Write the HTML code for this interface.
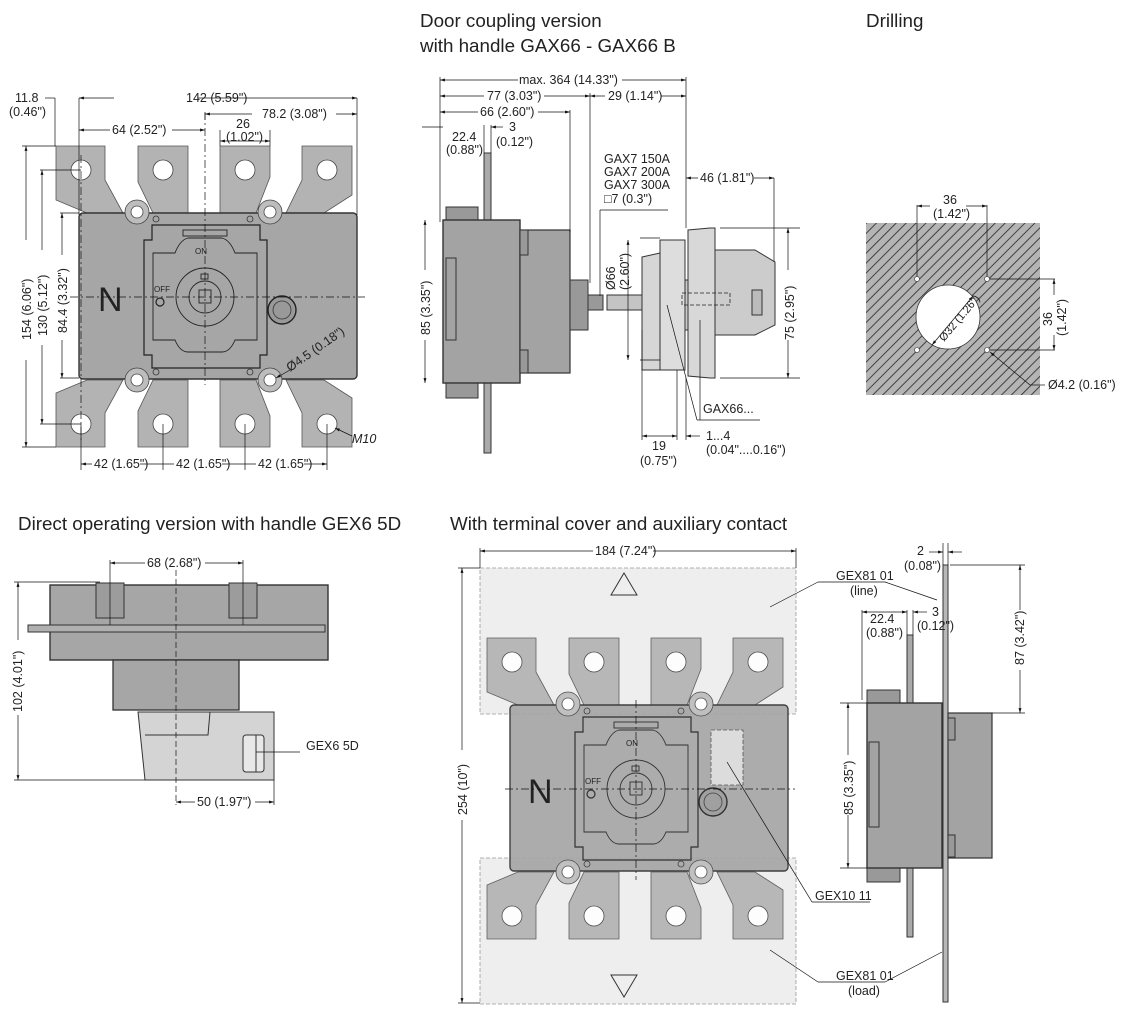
<!DOCTYPE html>
<html><head><meta charset="utf-8"><style>
html,body{margin:0;padding:0;background:#fff;}
svg{display:block;}
text{font-family:"Liberation Sans Narrow","Liberation Sans",sans-serif;fill:#222;}
.t{font-family:"Liberation Sans",sans-serif;font-size:18.8px;fill:#222;}
.d{font-size:12.5px;}
</style></head><body>
<svg width="1127" height="1022" viewBox="0 0 1127 1022" xmlns="http://www.w3.org/2000/svg">
<defs>
<marker id="a" viewBox="0 0 10 10" refX="10" refY="5" markerWidth="7" markerHeight="7" orient="auto-start-reverse"><path d="M0,2 L10,5 L0,8z" fill="#111"/></marker>
<pattern id="h" width="7" height="7" patternUnits="userSpaceOnUse" patternTransform="rotate(45)"><rect width="7" height="7" fill="#b4b4b4"/><line x1="0" y1="0" x2="0" y2="7" stroke="#333" stroke-width="1.8"/></pattern>
<g id="dev">
 <g fill="#b3b3b3" stroke="#555" stroke-width="0.8">
  <path d="M56,146 H105 V180 L123,213 H87 L56,200 Z"/>
  <path d="M138,146 H188 V213 H153 L138,182 Z"/>
  <path d="M220,146 H270 V177 L256,213 H220 Z"/>
  <path d="M302,146 H352 V195 L324,213 H286 L302,180 Z"/>
  <path d="M56,447 H105 V413 L123,380 H87 L56,393 Z"/>
  <path d="M138,447 H188 V380 H153 L138,411 Z"/>
  <path d="M220,447 H270 V416 L256,380 H220 Z"/>
  <path d="M302,447 H352 V398 L324,380 H286 L302,413 Z"/>
 </g>
 <g fill="#fff" stroke="#444" stroke-width="0.8">
  <circle cx="81" cy="170" r="10"/><circle cx="163" cy="170" r="10"/><circle cx="245" cy="170" r="10"/><circle cx="327" cy="170" r="10"/>
  <circle cx="81" cy="424" r="10"/><circle cx="163" cy="424" r="10"/><circle cx="245" cy="424" r="10"/><circle cx="327" cy="424" r="10"/>
 </g>
 <rect x="79" y="213" width="278" height="166" rx="4" fill="#a6a6a6" stroke="#333" stroke-width="1.4"/>
 <g stroke="#444" stroke-width="0.8">
  <circle cx="137" cy="212" r="12" fill="#bdbdbd"/><circle cx="137" cy="212" r="6" fill="#fff"/>
  <circle cx="270" cy="212" r="12" fill="#bdbdbd"/><circle cx="270" cy="212" r="6" fill="#fff"/>
  <circle cx="137" cy="380" r="12" fill="#bdbdbd"/><circle cx="137" cy="380" r="6" fill="#fff"/>
  <circle cx="270" cy="380" r="12" fill="#bdbdbd"/><circle cx="270" cy="380" r="6" fill="#fff"/>
 </g>
 <path d="M152,225 H260 V240 H267 V355 H260 V368 H152 V355 H144 V240 H152 Z" fill="#a6a6a6" stroke="#222" stroke-width="1.2"/>
 <path d="M153,253 H175 Q180,240 188,238 H222 Q230,240 235,253 H257 V340 H235 Q230,352 222,352 H188 Q180,352 175,340 H153 Z" fill="none" stroke="#222" stroke-width="0.9"/>
 <rect x="183" y="230" width="44" height="6" fill="none" stroke="#222" stroke-width="0.9"/>
 <circle cx="205" cy="297" r="29" fill="none" stroke="#222" stroke-width="0.9"/>
 <circle cx="205" cy="297" r="16" fill="none" stroke="#222" stroke-width="0.9"/>
 <rect x="199" y="290" width="12" height="13" fill="none" stroke="#222" stroke-width="0.9"/>
 <rect x="201" y="274" width="7" height="5" fill="none" stroke="#222" stroke-width="0.9"/>
 <circle cx="160" cy="302" r="4" fill="none" stroke="#222" stroke-width="1.2"/>
 <circle cx="282" cy="310" r="14" fill="#999" stroke="#222" stroke-width="1.4"/>
 <circle cx="282" cy="310" r="9" fill="none" stroke="#333" stroke-width="0.8"/>
 <g fill="none" stroke="#333" stroke-width="0.8"><circle cx="156" cy="219" r="3"/><circle cx="250" cy="219" r="3"/><circle cx="156" cy="372" r="3"/><circle cx="250" cy="372" r="3"/></g>
</g>
</defs>

<text class="t" x="420" y="27">Door coupling version</text>
<text class="t" x="420" y="52">with handle GAX66 - GAX66 B</text>
<text class="t" x="866" y="27">Drilling</text>
<text class="t" x="18" y="530">Direct operating version with handle GEX6 5D</text>
<text class="t" x="450" y="530">With terminal cover and auxiliary contact</text>

<use href="#dev"/>
<text x="98" y="311" style="font-family:'Liberation Sans',sans-serif;font-size:34px">N</text>
<text x="195" y="254" style="font-size:8px">ON</text>
<text x="154" y="292" style="font-size:8px">OFF</text>
<g stroke="#111" stroke-width="0.7" fill="none" stroke-dasharray="8,3,2,3">
 <line x1="70" y1="297" x2="365" y2="297"/><line x1="205" y1="112" x2="205" y2="385"/>
 <line x1="81" y1="155" x2="81" y2="440"/>
</g>
<g stroke="#111" stroke-width="0.7" fill="none">
 <line x1="55" y1="98" x2="55" y2="146"/><line x1="79" y1="98" x2="79" y2="215"/><line x1="357" y1="98" x2="357" y2="215"/>
 <line x1="205" y1="113" x2="205" y2="120"/>
 <line x1="220" y1="130" x2="220" y2="146"/><line x1="270" y1="130" x2="270" y2="146"/>
 <line x1="22" y1="146" x2="56" y2="146"/><line x1="40" y1="170" x2="81" y2="170"/><line x1="60" y1="213" x2="79" y2="213"/>
 <line x1="22" y1="447" x2="56" y2="447"/><line x1="40" y1="424" x2="81" y2="424"/><line x1="60" y1="378" x2="79" y2="378"/>
 <line x1="81" y1="424" x2="81" y2="470"/><line x1="163" y1="424" x2="163" y2="470"/><line x1="245" y1="424" x2="245" y2="470"/><line x1="327" y1="424" x2="327" y2="470"/>
</g>
<g stroke="#111" stroke-width="0.7" marker-start="url(#a)" marker-end="url(#a)">
 <line x1="79" y1="98" x2="357" y2="98"/>
 <line x1="205" y1="114" x2="357" y2="114"/>
 <line x1="79" y1="130" x2="205" y2="130"/>
 <line x1="220" y1="141" x2="270" y2="141"/>
 <line x1="26" y1="146" x2="26" y2="447"/>
 <line x1="42" y1="170" x2="42" y2="424"/>
 <line x1="62" y1="213" x2="62" y2="378"/>
 <line x1="81" y1="464" x2="327" y2="464"/>
</g>
<line x1="45" y1="98" x2="55" y2="98" stroke="#111" stroke-width="0.7"/>
<g fill="#fff"><rect x="114" y="90" width="84" height="14"/><rect x="252" y="106" width="84" height="14"/><rect x="110" y="122" width="62" height="14"/><rect x="20" y="240" width="12" height="120"/><rect x="36" y="250" width="12" height="95"/><rect x="56" y="255" width="12" height="85"/><rect x="92" y="456" width="48" height="14"/><rect x="174" y="456" width="48" height="14"/><rect x="256" y="456" width="48" height="14"/></g>
<text class="d" x="186" y="102">142 (5.59")</text>
<text class="d" x="262" y="118">78.2 (3.08")</text>
<text class="d" x="112" y="134">64 (2.52")</text>
<text class="d" x="236" y="128">26</text>
<text class="d" x="226" y="141">(1.02")</text>
<text class="d" x="15" y="102">11.8</text>
<text class="d" x="9" y="116">(0.46")</text>
<text class="d" transform="translate(31,340) rotate(-90)">154 (6.06")</text>
<text class="d" transform="translate(47,336) rotate(-90)">130 (5.12")</text>
<text class="d" transform="translate(67,333) rotate(-90)">84.4 (3.32")</text>
<text class="d" x="94" y="468">42 (1.65")</text>
<text class="d" x="176" y="468">42 (1.65")</text>
<text class="d" x="258" y="468">42 (1.65")</text>
<text class="d" transform="translate(290,372) rotate(-35)">Ø4.5 (0.18")</text>
<line x1="276" y1="378" x2="290" y2="370" stroke="#111" stroke-width="0.7" marker-start="url(#a)"/>
<text class="d" x="352" y="443" style="font-style:italic">M10</text>
<line x1="335" y1="428" x2="352" y2="436" stroke="#111" stroke-width="0.7" marker-start="url(#a)"/>

<g stroke="#333" stroke-width="1">
 <rect x="484" y="153" width="7" height="300" fill="#aaa"/>
 <rect x="446" y="207" width="32" height="13" fill="#999"/>
 <rect x="446" y="383" width="32" height="15" fill="#999"/>
 <rect x="443" y="220" width="77" height="163" fill="#a3a3a3" stroke-width="1.4"/>
 <rect x="446" y="258" width="10" height="82" fill="none"/>
 <rect x="520" y="230" width="50" height="143" fill="#a3a3a3" stroke-width="1.2"/>
 <rect x="520" y="230" width="8" height="25" fill="#999"/><rect x="520" y="350" width="8" height="23" fill="#999"/>
 <rect x="570" y="280" width="18" height="50" fill="#999"/>
 <rect x="588" y="295" width="15" height="15" fill="#999"/>
 <rect x="607" y="295" width="35" height="15" fill="#c4c4c4"/>
 <path d="M642,257 L660,253 V370 H642 Z" fill="#d6d6d6"/>
 <rect x="660" y="240" width="25" height="130" fill="#ddd"/>
 <rect x="685" y="280" width="10" height="50" fill="#ccc"/>
 <path d="M688,230 L710,228 H715 V378 H710 L688,376 Z" fill="#d8d8d8"/>
 <path d="M715,250 H755 L775,262 V325 L755,335 H715 Z" fill="#ccc"/>
 <rect x="752" y="290" width="10" height="25" fill="#bbb"/>
</g>
<rect x="682" y="293" width="48" height="12" fill="none" stroke="#222" stroke-width="0.8" stroke-dasharray="4,2"/>
<g stroke="#111" stroke-width="0.7" fill="none">
 <line x1="440" y1="77" x2="440" y2="222"/><line x1="686" y1="77" x2="686" y2="228"/>
 <line x1="590" y1="93" x2="590" y2="283"/><line x1="570" y1="110" x2="570" y2="232"/>
 <line x1="484" y1="125" x2="484" y2="153"/><line x1="491" y1="125" x2="491" y2="153"/>
 <line x1="774" y1="178" x2="774" y2="262"/>
 <line x1="640" y1="238" x2="660" y2="238"/><line x1="640" y1="360" x2="660" y2="360"/>
 <line x1="720" y1="228" x2="800" y2="228"/><line x1="720" y1="378" x2="800" y2="378"/>
 <line x1="600" y1="210" x2="668" y2="210"/><line x1="600" y1="210" x2="600" y2="296"/>
 <line x1="642" y1="330" x2="642" y2="440"/><line x1="677" y1="370" x2="677" y2="440"/><line x1="686" y1="378" x2="686" y2="440"/>
 <line x1="667" y1="305" x2="697" y2="420"/><line x1="700" y1="320" x2="700" y2="420"/><line x1="697" y1="420" x2="760" y2="420"/>
 <line x1="422" y1="127" x2="443" y2="127"/>
</g>
<g stroke="#111" stroke-width="0.7" marker-start="url(#a)" marker-end="url(#a)">
 <line x1="440" y1="80" x2="686" y2="80"/>
 <line x1="440" y1="96" x2="590" y2="96"/>
 <line x1="590" y1="96" x2="686" y2="96"/>
 <line x1="440" y1="112" x2="570" y2="112"/>
 <line x1="686" y1="178" x2="774" y2="178"/>
 <line x1="425" y1="220" x2="425" y2="383"/>
 <line x1="628" y1="240" x2="628" y2="360"/>
 <line x1="788" y1="228" x2="788" y2="378"/>
 <line x1="642" y1="436" x2="677" y2="436"/>
</g>
<line x1="491" y1="127" x2="503" y2="127" stroke="#111" stroke-width="0.7" marker-start="url(#a)"/>
<line x1="686" y1="436" x2="700" y2="436" stroke="#111" stroke-width="0.7" marker-start="url(#a)"/>
<g fill="#fff"><rect x="518" y="72" width="104" height="14"/><rect x="484" y="88" width="60" height="14"/><rect x="605" y="88" width="56" height="14"/><rect x="478" y="104" width="60" height="14"/><rect x="698" y="170" width="56" height="14"/><rect x="418" y="270" width="14" height="70"/><rect x="781" y="270" width="14" height="70"/></g>
<text class="d" x="519" y="84">max. 364 (14.33")</text>
<text class="d" x="487" y="100">77 (3.03")</text>
<text class="d" x="608" y="100">29 (1.14")</text>
<text class="d" x="480" y="116">66 (2.60")</text>
<text class="d" x="452" y="141">22.4</text>
<text class="d" x="446" y="154">(0.88")</text>
<text class="d" x="509" y="131">3</text>
<text class="d" x="496" y="146">(0.12")</text>
<text class="d" x="604" y="163">GAX7 150A</text>
<text class="d" x="604" y="176">GAX7 200A</text>
<text class="d" x="604" y="189">GAX7 300A</text>
<text class="d" x="604" y="203">□7 (0.3")</text>
<text class="d" x="700" y="182">46 (1.81")</text>
<text class="d" transform="translate(430,335) rotate(-90)">85 (3.35")</text>
<text class="d" transform="translate(615,290) rotate(-90)">Ø66</text>
<text class="d" transform="translate(629,290) rotate(-90)">(2.60")</text>
<text class="d" transform="translate(794,340) rotate(-90)">75 (2.95")</text>
<text class="d" x="703" y="413">GAX66...</text>
<text class="d" x="652" y="450">19</text>
<text class="d" x="640" y="465">(0.75")</text>
<text class="d" x="706" y="440">1...4</text>
<text class="d" x="706" y="454">(0.04"....0.16")</text>

<rect x="866" y="223" width="174" height="172" fill="url(#h)"/>
<circle cx="948" cy="317" r="32" fill="#fff" stroke="#333" stroke-width="0.8"/>
<g fill="#fff" stroke="#333" stroke-width="0.6"><circle cx="917" cy="279" r="2.5"/><circle cx="987" cy="279" r="2.5"/><circle cx="917" cy="350" r="2.5"/><circle cx="987" cy="350" r="2.5"/></g>
<g stroke="#111" stroke-width="0.7" fill="none">
 <line x1="917" y1="205" x2="917" y2="277"/><line x1="987" y1="205" x2="987" y2="277"/>
 <line x1="990" y1="279" x2="1055" y2="279"/><line x1="990" y1="350" x2="1055" y2="350"/>
 <line x1="1030" y1="385" x2="1045" y2="385"/>
</g>
<g stroke="#111" stroke-width="0.7" marker-start="url(#a)" marker-end="url(#a)">
 <line x1="917" y1="206" x2="987" y2="206"/><line x1="1054" y1="279" x2="1054" y2="350"/>
 <line x1="932" y1="345" x2="973" y2="296"/>
</g>
<line x1="990" y1="352" x2="1030" y2="385" stroke="#111" stroke-width="0.7" marker-start="url(#a)"/>
<rect x="930" y="198" width="36" height="14" fill="#fff"/><rect x="1047" y="295" width="16" height="40" fill="#fff"/>
<text class="d" x="943" y="204">36</text>
<text class="d" x="933" y="218">(1.42")</text>
<text class="d" transform="translate(1052,326) rotate(-90)">36</text>
<text class="d" transform="translate(1066,336) rotate(-90)">(1.42")</text>
<text class="d" transform="translate(944,342) rotate(-50)" style="font-size:11px">Ø32 (1.26")</text>
<text class="d" x="1048" y="389">Ø4.2 (0.16")</text>

<g stroke="#333" stroke-width="1">
 <rect x="50" y="585" width="278" height="75" fill="#a6a6a6" stroke-width="1.4"/>
 <rect x="96" y="583" width="28" height="35" fill="#9c9c9c"/><rect x="229" y="583" width="28" height="35" fill="#9c9c9c"/>
 <rect x="28" y="625" width="297" height="7" fill="#b0b0b0"/>
 <rect x="113" y="660" width="126" height="50" fill="#a6a6a6" stroke-width="1.3"/>
 <path d="M138,712 H274 V780 H145 Z" fill="#d4d4d4"/>
 <path d="M145,735 H208 L210,712" fill="none"/>
 <rect x="243" y="735" width="21" height="37" rx="3" fill="#e8e8e8"/>
 <line x1="256" y1="735" x2="256" y2="772"/>
</g>
<line x1="176" y1="570" x2="176" y2="805" stroke="#111" stroke-width="0.7" stroke-dasharray="6,3"/>
<g stroke="#111" stroke-width="0.7" fill="none">
 <line x1="110" y1="560" x2="110" y2="625"/><line x1="243" y1="560" x2="243" y2="625"/>
 <line x1="14" y1="582" x2="100" y2="582"/><line x1="14" y1="780" x2="145" y2="780"/>
 <line x1="274" y1="780" x2="274" y2="805"/><line x1="256" y1="752" x2="300" y2="752"/>
</g>
<g stroke="#111" stroke-width="0.7" marker-start="url(#a)" marker-end="url(#a)">
 <line x1="110" y1="563" x2="243" y2="563"/><line x1="18" y1="582" x2="18" y2="780"/><line x1="176" y1="802" x2="274" y2="802"/>
</g>
<rect x="145" y="555" width="60" height="14" fill="#fff"/><rect x="11" y="640" width="14" height="75" fill="#fff"/><rect x="195" y="794" width="60" height="14" fill="#fff"/>
<text class="d" x="147" y="567">68 (2.68")</text>
<text class="d" transform="translate(22,712) rotate(-90)">102 (4.01")</text>
<text class="d" x="197" y="806">50 (1.97")</text>
<text class="d" x="306" y="750">GEX6 5D</text>

<rect x="480" y="568" width="316" height="146" fill="#eeeeee" stroke="#999" stroke-width="0.8" stroke-dasharray="4,2"/>
<rect x="480" y="858" width="316" height="146" fill="#eeeeee" stroke="#999" stroke-width="0.8" stroke-dasharray="4,2"/>
<g transform="translate(431,492)" opacity="0.93"><use href="#dev"/></g>
<rect x="711" y="730" width="32" height="55" fill="#dcdcdc" stroke="#555" stroke-width="0.8" stroke-dasharray="4,2"/>
<path d="M611,595 L624,573 L637,595 Z" fill="none" stroke="#333"/>
<path d="M611,975 L624,997 L637,975 Z" fill="none" stroke="#333"/>
<text x="528" y="803" style="font-family:'Liberation Sans',sans-serif;font-size:34px">N</text>
<text x="626" y="746" style="font-size:8px">ON</text>
<text x="585" y="784" style="font-size:8px">OFF</text>
<g stroke="#111" stroke-width="0.7" fill="none" stroke-dasharray="8,3,2,3">
 <line x1="505" y1="789" x2="795" y2="789"/><line x1="636" y1="700" x2="636" y2="880"/>
</g>
<g stroke="#111" stroke-width="0.7" fill="none">
 <line x1="480" y1="548" x2="480" y2="568"/><line x1="796" y1="548" x2="796" y2="568"/>
 <line x1="458" y1="568" x2="480" y2="568"/><line x1="458" y1="1003" x2="480" y2="1003"/>
 <line x1="770" y1="607" x2="818" y2="582"/><line x1="818" y1="582" x2="885" y2="582"/><line x1="885" y1="582" x2="937" y2="600"/>
 <line x1="727" y1="762" x2="812" y2="902"/><line x1="812" y1="902" x2="870" y2="902"/>
 <line x1="770" y1="950" x2="818" y2="982"/><line x1="818" y1="982" x2="885" y2="982"/><line x1="885" y1="982" x2="942" y2="952"/>
</g>
<g stroke="#111" stroke-width="0.7" marker-start="url(#a)" marker-end="url(#a)">
 <line x1="480" y1="551" x2="796" y2="551"/><line x1="462" y1="568" x2="462" y2="1003"/>
</g>
<rect x="593" y="543" width="60" height="14" fill="#fff"/><rect x="455" y="750" width="14" height="70" fill="#fff"/>
<text class="d" x="595" y="555">184 (7.24")</text>
<text class="d" transform="translate(467,815) rotate(-90)">254 (10")</text>
<text class="d" x="836" y="580">GEX81 01</text>
<text class="d" x="850" y="595">(line)</text>
<text class="d" x="815" y="900">GEX10 11</text>
<text class="d" x="836" y="980">GEX81 01</text>
<text class="d" x="848" y="995">(load)</text>

<g stroke="#333" stroke-width="1">
 <rect x="907" y="635" width="6" height="302" fill="#aaa"/>
 <rect x="943" y="565" width="5" height="437" fill="#b8b8b8"/>
 <rect x="867" y="690" width="33" height="13" fill="#999"/><rect x="867" y="868" width="33" height="14" fill="#999"/>
 <rect x="867" y="703" width="75" height="165" fill="#a3a3a3" stroke-width="1.4"/>
 <rect x="869" y="742" width="10" height="85" fill="none"/>
 <rect x="948" y="713" width="44" height="145" fill="#a3a3a3" stroke-width="1.2"/>
 <rect x="948" y="718" width="7" height="22" fill="#999"/><rect x="948" y="835" width="7" height="22" fill="#999"/>
</g>
<g stroke="#111" stroke-width="0.7" fill="none">
 <line x1="862" y1="610" x2="862" y2="700"/><line x1="907" y1="610" x2="907" y2="635"/><line x1="913" y1="610" x2="913" y2="635"/>
 <line x1="943" y1="543" x2="943" y2="565"/><line x1="948" y1="543" x2="948" y2="565"/>
 <line x1="950" y1="565" x2="1025" y2="565"/><line x1="992" y1="713" x2="1025" y2="713"/>
 <line x1="840" y1="703" x2="867" y2="703"/><line x1="840" y1="868" x2="867" y2="868"/>
</g>
<g stroke="#111" stroke-width="0.7" marker-start="url(#a)" marker-end="url(#a)">
 <line x1="862" y1="612" x2="907" y2="612"/><line x1="1020" y1="565" x2="1020" y2="713"/><line x1="848" y1="703" x2="848" y2="868"/>
</g>
<line x1="929" y1="552" x2="943" y2="552" stroke="#111" stroke-width="0.7" marker-end="url(#a)"/>
<line x1="962" y1="552" x2="948" y2="552" stroke="#111" stroke-width="0.7" marker-end="url(#a)"/>
<line x1="927" y1="612" x2="913" y2="612" stroke="#111" stroke-width="0.7" marker-end="url(#a)"/>
<rect x="1013" y="610" width="14" height="60" fill="#fff"/><rect x="842" y="755" width="14" height="60" fill="#fff"/>
<text class="d" x="917" y="555">2</text>
<text class="d" x="904" y="570">(0.08")</text>
<text class="d" x="870" y="623">22.4</text>
<text class="d" x="866" y="637">(0.88")</text>
<text class="d" x="932" y="616">3</text>
<text class="d" x="917" y="630">(0.12")</text>
<text class="d" transform="translate(1024,665) rotate(-90)">87 (3.42")</text>
<text class="d" transform="translate(853,815) rotate(-90)">85 (3.35")</text>
</svg>
</body></html>
